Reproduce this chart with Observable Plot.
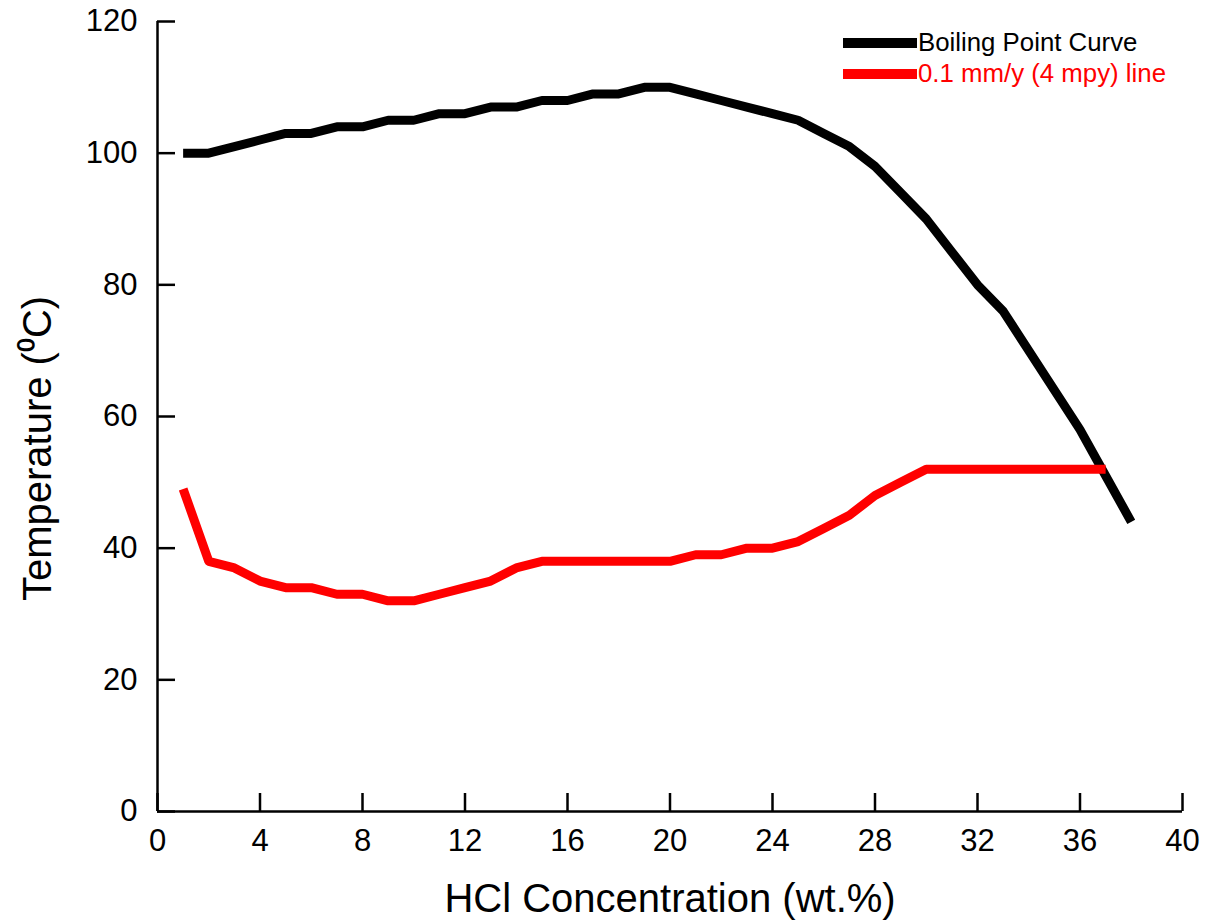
<!DOCTYPE html>
<html><head><meta charset="utf-8">
<script src="https://cdn.jsdelivr.net/npm/d3@7"></script>
<script src="https://cdn.jsdelivr.net/npm/@observablehq/plot@0.6"></script>
<style>
body{margin:0;background:#fff;}
#wrap{position:relative;width:1207px;height:921px;}
#wrap svg{display:block;}
g[aria-label="x-axis label"] text, g[aria-label="y-axis label"] text{font-size:40px;}
g[aria-label="y-axis label"]{translate:0px 32px;}
.legend{position:absolute;left:843px;top:27px;font-family:"Liberation Sans",Arial,sans-serif;font-size:25.8px;line-height:31px;}
.legend .row{display:flex;align-items:center;}
.legend .sw{width:74px;height:10px;margin-right:1px;}
</style></head>
<body><div id="wrap"><div class="legend" id="legend"></div></div>
<script>
// Boiling point curve
const bpConc = [1,2,3,4,5,6,7,8,9,10,11,12,13,14,15,16,17,18,19,20,21,22,23,24,25,26,27,28,29,30,31,32,33,34,35,36,37,38];
const bpTemp = [100,100,101,102,103,103,104,104,105,105,106,106,107,107,108,108,109,109,110,110,109,108,107,106,105,103,101,98,94,90,85,80,76,70,64,58,51,44];
// 0.1 mm/y (4 mpy) iso-corrosion line
const isoConc = [1,2,3,4,5,6,7,8,9,10,11,12,13,14,15,16,17,18,19,20,21,22,23,24,25,26,27,28,29,30,31,32,33,34,35,36,37];
const isoTemp = [49,38,37,35,34,34,33,33,32,32,33,34,35,37,38,38,38,38,38,38,39,39,40,40,41,43,45,48,50,52,52,52,52,52,52,52,52];
const xTicks = [0,4,8,12,16,20,24,28,32,36,40];
const yTicks = [0,20,40,60,80,100,120];
const seriesNames = ["Boiling Point Curve","0.1 mm/y (4 mpy) line"];
const seriesColors = ["#000000","#ff0000"];

const chart = Plot.plot({
  width: 1207, height: 921,
  marginLeft: 157, marginRight: 25, marginTop: 21, marginBottom: 110,
  style: {fontFamily: "'Liberation Sans', Arial, sans-serif", fontSize: "31px", color: "#000", background: "#fff"},
  x: {domain: [0, 40]},
  y: {domain: [0, 120]},
  marks: [
    Plot.axisX({ticks: xTicks, tickSize: -18, tickPadding: 35, strokeWidth: 2.5, label: "HCl Concentration (wt.%)", labelArrow: "none", labelAnchor: "center", labelOffset: 100}),
    Plot.axisY({ticks: yTicks, tickSize: -18, tickPadding: 38, strokeWidth: 2.5, label: "Temperature (\u2070C)", labelArrow: "none", labelAnchor: "center", labelOffset: 135}),
    Plot.ruleY([0], {stroke: "#000", strokeWidth: 2.5}),
    Plot.ruleX([0], {stroke: "#000", strokeWidth: 2.5}),
    Plot.line(bpTemp, {x: bpConc, y: bpTemp, stroke: seriesColors[0], strokeWidth: 9, strokeLinecap: "butt", strokeLinejoin: "round"}),
    Plot.line(isoTemp, {x: isoConc, y: isoTemp, stroke: seriesColors[1], strokeWidth: 9, strokeLinecap: "butt", strokeLinejoin: "round"})
  ]
});
document.getElementById("wrap").prepend(chart);

const legend = document.getElementById("legend");
seriesNames.forEach((name, i) => {
  const row = document.createElement("div");
  row.className = "row";
  const sw = document.createElement("span");
  sw.className = "sw";
  sw.style.background = seriesColors[i];
  const tx = document.createElement("span");
  tx.textContent = name;
  tx.style.color = seriesColors[i];
  row.append(sw, tx);
  legend.append(row);
});
</script>
</body></html>
